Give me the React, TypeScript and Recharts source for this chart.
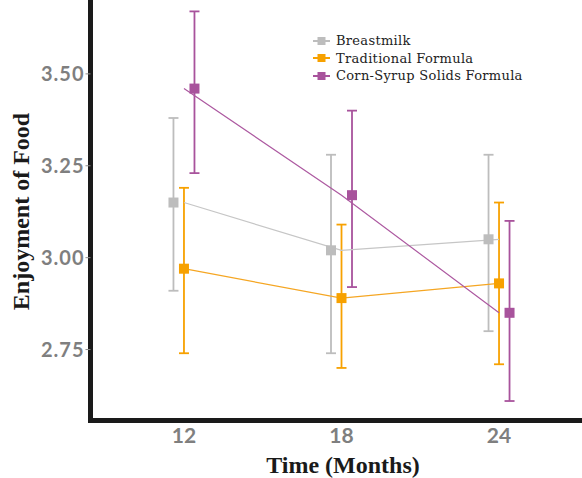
import React from 'react';
import { ComposedChart, Scatter, XAxis, YAxis, ErrorBar, Legend } from 'recharts';

// Follow-up times (months)
const months = [12, 18, 24];

// Mean enjoyment score and 95% interval per feeding group
const breastmilkMean = [3.15, 3.02, 3.05];
const breastmilkLow = [2.91, 2.74, 2.80];
const breastmilkHigh = [3.38, 3.28, 3.28];

const traditionalMean = [2.97, 2.89, 2.93];
const traditionalLow = [2.74, 2.70, 2.71];
const traditionalHigh = [3.19, 3.09, 3.15];

const cornSyrupMean = [3.46, 3.17, 2.85];
const cornSyrupLow = [3.23, 2.92, 2.61];
const cornSyrupHigh = [3.67, 3.40, 3.10];

const yTicks = [2.75, 3.0, 3.25, 3.5];

type Group = {
  name: string;
  color: string;
  lineColor: string;
  dodge: number;
  mean: number[];
  low: number[];
  high: number[];
};

const groups: Group[] = [
  { name: 'Breastmilk', color: '#BDBDBD', lineColor: '#C6C6C6', dodge: -0.4, mean: breastmilkMean, low: breastmilkLow, high: breastmilkHigh },
  { name: 'Traditional Formula', color: '#F7A100', lineColor: '#F5A623', dodge: 0, mean: traditionalMean, low: traditionalLow, high: traditionalHigh },
  { name: 'Corn-Syrup Solids Formula', color: '#A8539C', lineColor: '#AD5AA1', dodge: 0.4, mean: cornSyrupMean, low: cornSyrupLow, high: cornSyrupHigh },
];

// Trend line points sit on the exact month; markers are dodged sideways
const linePoints = (g: Group) => months.map((m, i) => ({ x: m, y: g.mean[i] }));
const markerPoints = (g: Group) =>
  months.map((m, i) => ({ x: m + g.dodge, y: g.mean[i], err: [g.mean[i] - g.low[i], g.high[i] - g.mean[i]] }));

const Square = (color: string) => (props: any) => {
  const { cx, cy } = props;
  if (cx == null || cy == null) return <g />;
  return <rect x={cx - 5} y={cy - 5} width={10} height={10} fill={color} />;
};

const NoShape = () => <g />;

const YTick = (props: any) => {
  const { x, y, payload } = props;
  return (
    <text x={x - 1} y={y} dy="0.36em" textAnchor="end" fill="#7F7F7F" fontFamily="Lato" fontWeight="bold" fontSize={20} letterSpacing={1}>
      {Number(payload.value).toFixed(2)}
    </text>
  );
};

const XTick = (props: any) => {
  const { x, y, payload } = props;
  return (
    <text x={x} y={y + 22.5} textAnchor="middle" fill="#7F7F7F" fontFamily="Lato" fontWeight="bold" fontSize={21}>
      {payload.value}
    </text>
  );
};

const LegendBox = () => (
  <div style={{ fontFamily: 'DejaVu Serif', fontSize: 13, color: '#222', lineHeight: '17.5px' }}>
    {groups.map((g) => (
      <div key={g.name} style={{ display: 'flex', alignItems: 'center', height: 17.5 }}>
        <svg width={20} height={12} style={{ marginRight: 4 }}>
          <line x1={1} y1={6} x2={18} y2={6} stroke={g.color} strokeWidth={2} />
          <rect x={5.5} y={2} width={8} height={8} fill={g.color} />
        </svg>
        <span style={{ letterSpacing: 0.3 }}>{g.name}</span>
      </div>
    ))}
  </div>
);

export default function App() {
  return (
    <div style={{ position: 'absolute', left: 0, top: 0, width: 582, height: 478, background: '#fff' }}>
      <ComposedChart width={582} height={478} margin={{ top: 0, right: 0, bottom: 0, left: 0 }}>
        <XAxis
          type="number"
          dataKey="x"
          domain={[8.44, 27.16]}
          ticks={months}
          allowDataOverflow
          height={57.5}
          tickLine={false}
          tickSize={0}
          tickMargin={0}
          tick={<XTick />}
          axisLine={{ stroke: '#1A1A1A', strokeWidth: 5, strokeLinecap: 'square' }}
        />
        <YAxis
          type="number"
          dataKey="y"
          domain={[2.557, 3.701]}
          ticks={yTicks}
          allowDataOverflow
          width={90.5}
          tickSize={5}
          tickMargin={0}
          tickLine={{ stroke: '#8C8C8C', strokeWidth: 1 }}
          tick={<YTick />}
          axisLine={{ stroke: '#1A1A1A', strokeWidth: 5, strokeLinecap: 'square' }}
        />
        {groups.map((g) => (
          <Scatter
            key={g.name + '-line'}
            data={linePoints(g)}
            line={{ stroke: g.lineColor, strokeWidth: 1.2 }}
            shape={NoShape}
            isAnimationActive={false}
            legendType="none"
          />
        ))}
        {groups.map((g) => (
          <Scatter key={g.name} name={g.name} data={markerPoints(g)} shape={Square(g.color)} isAnimationActive={false}>
            <ErrorBar dataKey="err" direction="y" width={5} stroke={g.color} strokeWidth={1.8} isAnimationActive={false} />
          </Scatter>
        ))}
        <Legend
          layout="vertical"
          align="center"
          verticalAlign="middle"
          content={<LegendBox />}
          wrapperStyle={{ left: 312, top: 32, width: 230, height: 54 }}
        />
        <text
          transform="translate(29,211.5) rotate(-90)"
          textAnchor="middle"
          fontFamily="Liberation Serif"
          fontWeight="bold"
          fontSize={24}
          fill="#1A1A1A"
        >
          Enjoyment of Food
        </text>
        <text x={343} y={473} textAnchor="middle" fontFamily="Liberation Serif" fontWeight="bold" fontSize={24} fill="#1A1A1A">
          Time (Months)
        </text>
      </ComposedChart>
    </div>
  );
}
